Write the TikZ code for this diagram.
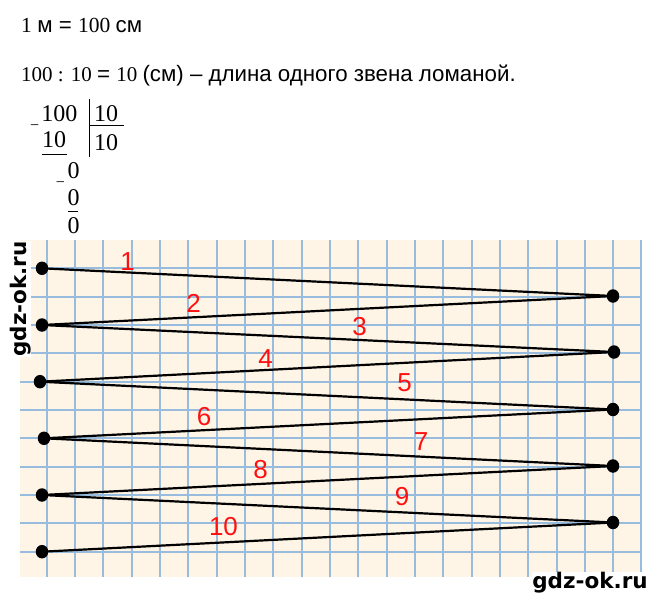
\documentclass[tikz,border=0pt]{standalone}
\usepackage{fontspec}
\setmainfont{Liberation Serif}
\newfontfamily\sansf{Liberation Sans}
\newfontfamily\wmf{DejaVu Sans}
\usetikzlibrary{shapes.geometric}
\definecolor{gridbg}{HTML}{FEF5E6}
\definecolor{gridln}{HTML}{98BCDD}
\definecolor{lblred}{HTML}{FF1010}
\tikzset{
  gridline/.style={fill=gridln},
  hgridline/.style={draw=gridln, line width=2pt},
  dotnode/.style={ellipse, fill=black, minimum width=12.5pt, minimum height=13.5pt, inner sep=0pt},
  seg/.style={draw=black, line width=2.2pt},
  lbl/.style={text=lblred, font=\sansf\fontsize{26}{28}\selectfont, inner sep=0pt},
  divtxt/.style={font=\fontsize{24}{26}\selectfont, inner sep=0pt, anchor=base west},
  divln/.style={draw=black, line width=1pt},
  toptxt/.style={inner sep=0pt, anchor=base west},
  wm/.style={font=\wmf\bfseries\fontsize{21.5}{22}\selectfont, fill=white, inner sep=0.5pt}
}
\newcommand{\sanspart}[1]{{\sansf\fontsize{22.3}{24}\selectfont #1}}
\begin{document}
\begin{tikzpicture}[x=1pt,y=-1pt]
\useasboundingbox (0,0) rectangle (657,600);
\fill[white] (0,0) rectangle (657,600);

% --- top text
\node[toptxt] (t1) at (21,32.7) {\fontsize{21.5}{24}\selectfont 1 \sanspart{м = }100 \sanspart{см}};
\node[toptxt] (t2) at (21,81) {\fontsize{21}{24}\selectfont 100 : 10 \sanspart{= }10 \sanspart{(см) – длина одного звена ломаной.}};

% --- long division
\node[divtxt] (dd) at (41.2,121) {100};
\node[divtxt] (dv) at (94,121) {10};
\node[divtxt] (s1) at (42,147.7) {10};
\node[divtxt] (q) at (94,150) {10};
\node[divtxt] (r1) at (67.3,178.3) {0};
\node[divtxt] (s2) at (67.3,205) {0};
\node[divtxt] (r2) at (67.3,233.3) {0};
\node[font=\fontsize{16}{16}\selectfont, inner sep=0pt] (m1) at (34.7,128) {−};
\node[font=\fontsize{16}{16}\selectfont, inner sep=0pt] (m2) at (60.5,185) {−};
\draw[divln] (89,99) -- (89,156.7);
\draw[divln] (89,125.7) -- (124,125.7);
\draw[divln] (41.7,154.3) -- (66.7,154.3);
\draw[divln] (68.3,211.7) -- (78.3,211.7);

% --- grid paper
\fill[gridbg] (20,240) rectangle (642,577);
\foreach \gx in {47,75,103,132,160,188,217,245,273,302,330,358,387,415,443,472,500,528,557,585,613,641}
  \fill[gridline] (\gx-1,240) rectangle (\gx+1,577);
\foreach \gy in {268,297,325,353,382,410,438,467,495,523,552}
  \draw[hgridline] (20,\gy) -- (642,\gy);

% --- points
\node[dotnode] (L1) at (42,268.3) {};
\node[dotnode] (L2) at (42,325) {};
\node[dotnode] (L3) at (40,381.7) {};
\node[dotnode] (L4) at (44,438.3) {};
\node[dotnode] (L5) at (42,495) {};
\node[dotnode] (L6) at (42,551.7) {};
\node[dotnode] (R1) at (613,296) {};
\node[dotnode] (R2) at (614,352) {};
\node[dotnode] (R3) at (613,409.5) {};
\node[dotnode] (R4) at (613,466) {};
\node[dotnode] (R5) at (613,522.5) {};

% --- broken line
\draw[seg] (L1.center) -- (R1.center);
\draw[seg] (R1.center) -- (L2.center);
\draw[seg] (L2.center) -- (R2.center);
\draw[seg] (R2.center) -- (L3.center);
\draw[seg] (L3.center) -- (R3.center);
\draw[seg] (R3.center) -- (L4.center);
\draw[seg] (L4.center) -- (R4.center);
\draw[seg] (R4.center) -- (L5.center);
\draw[seg] (L5.center) -- (R5.center);
\draw[seg] (R5.center) -- (L6.center);

% --- labels
\node[lbl] (n1) at (127.5,262) {1};
\node[lbl] (n2) at (193.5,303) {2};
\node[lbl] (n3) at (359.5,327) {3};
\node[lbl] (n4) at (265.5,359) {4};
\node[lbl] (n5) at (404.5,383) {5};
\node[lbl] (n6) at (204,417) {6};
\node[lbl] (n7) at (421,442) {7};
\node[lbl] (n8) at (260.5,470) {8};
\node[lbl] (n9) at (402,497) {9};
\node[lbl] (n10) at (223.5,527) {10};

% --- watermarks
\node[wm, rotate=90] (w1) at (20.5,299) {gdz-ok.ru};
\node[wm] (w2) at (590,583) {gdz-ok.ru};
\end{tikzpicture}
\end{document}
